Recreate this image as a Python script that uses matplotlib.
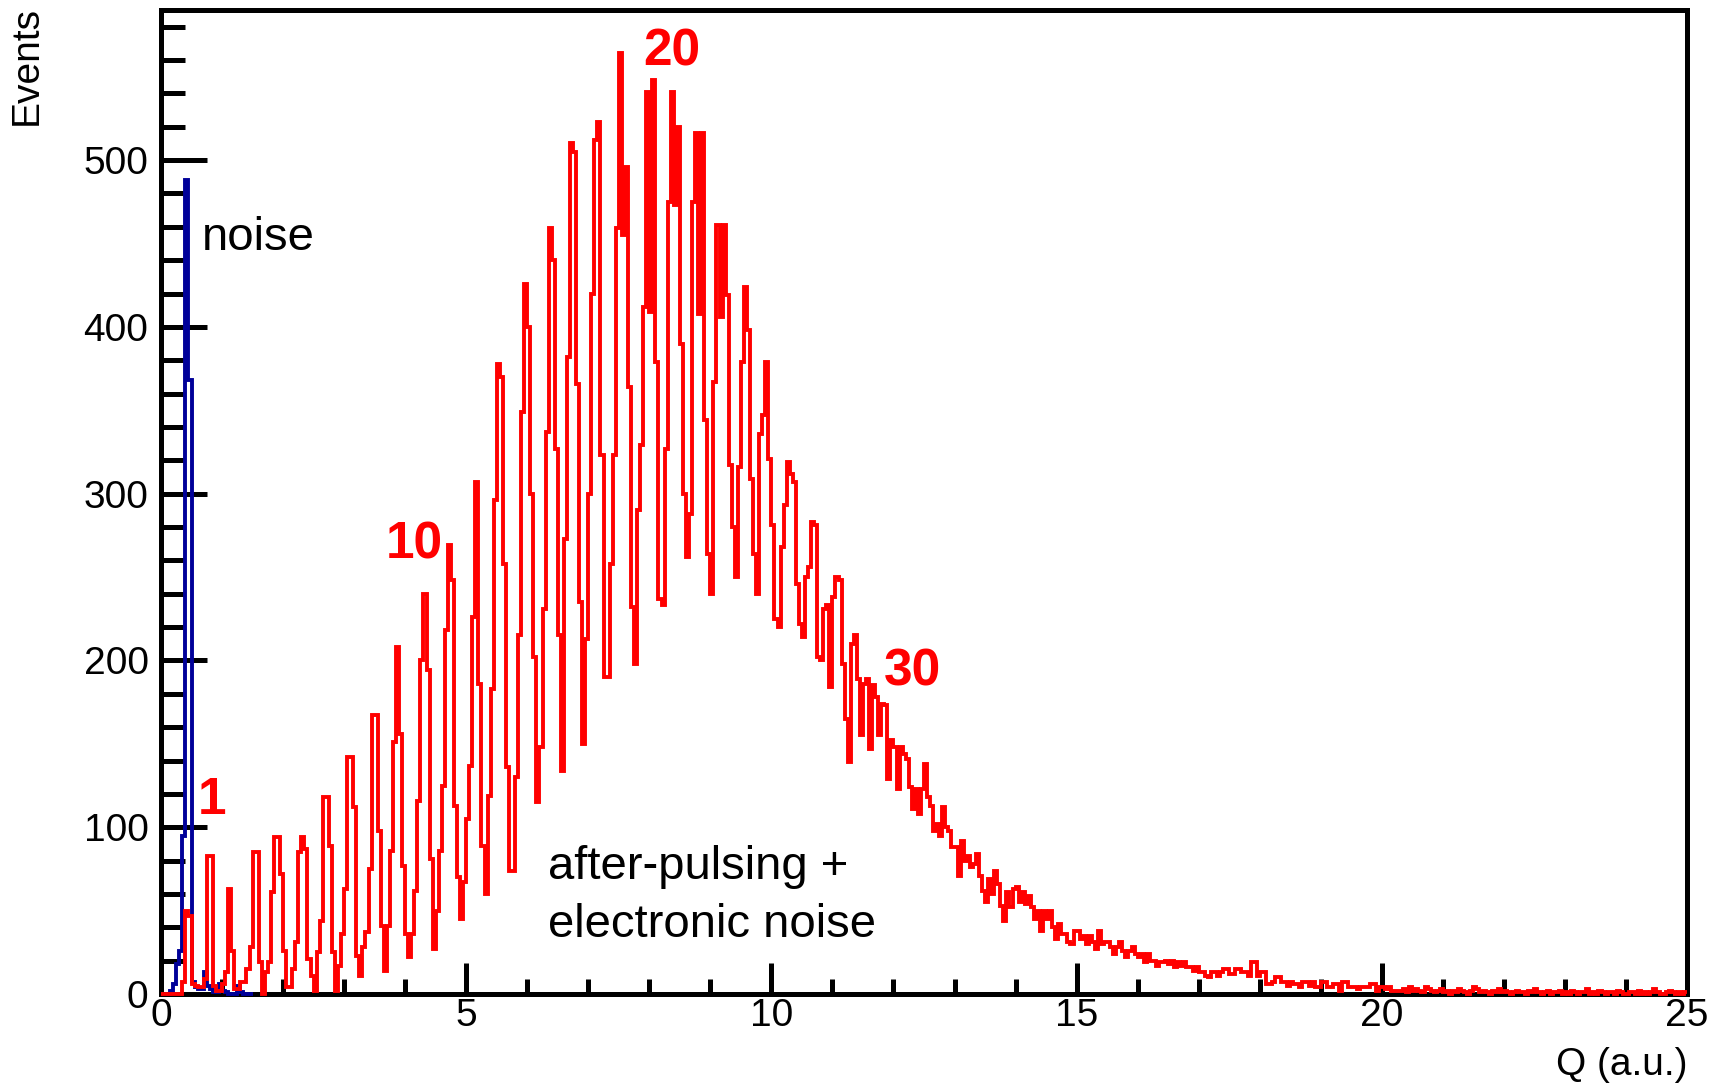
import numpy as np
import matplotlib
matplotlib.use("Agg")
import matplotlib.pyplot as plt
from matplotlib.ticker import MultipleLocator

plt.rcParams['font.family'] = ['Liberation Sans', 'DejaVu Sans']

# Histogram binning: 500 bins on 0..25
q_min, q_max, n_bins = 0.0, 25.0, 500

# Red histogram (signal spectrum), bin contents
red_counts = [
    0, 0, 0, 0, 0, 0, 0, 7, 50, 47,
    6, 5, 4, 4, 9, 83, 83, 5, 2, 2,
    6, 13, 63, 26, 3, 3, 7, 7, 15, 28,
    85, 85, 19, 0, 13, 19, 61, 94, 94, 72,
    26, 4, 4, 15, 31, 85, 94, 87, 21, 11,
    2, 25, 44, 118, 118, 89, 25, 2, 17, 36,
    63, 142, 142, 112, 23, 11, 28, 37, 75, 167,
    167, 98, 41, 14, 41, 86, 151, 208, 156, 77,
    36, 22, 36, 62, 116, 200, 240, 194, 81, 27,
    50, 86, 125, 218, 269, 248, 113, 70, 45, 67,
    105, 137, 226, 307, 186, 89, 60, 119, 183, 296,
    378, 370, 258, 136, 74, 74, 130, 215, 349, 426,
    400, 300, 202, 115, 148, 231, 337, 459, 440, 327,
    215, 134, 273, 382, 510, 505, 366, 235, 150, 213,
    300, 420, 512, 523, 323, 190, 190, 258, 323, 459,
    564, 455, 496, 364, 232, 198, 290, 329, 412, 541,
    409, 548, 379, 237, 233, 327, 475, 541, 473, 520,
    390, 300, 262, 288, 475, 516, 408, 516, 344, 264,
    240, 367, 461, 406, 461, 419, 317, 280, 250, 316,
    379, 424, 398, 309, 264, 240, 336, 347, 379, 321,
    281, 225, 220, 268, 293, 319, 312, 307, 246, 222,
    214, 250, 256, 283, 281, 202, 200, 231, 233, 184,
    238, 250, 248, 198, 165, 139, 210, 215, 189, 155,
    186, 189, 147, 185, 178, 155, 174, 173, 129, 152,
    148, 123, 148, 144, 141, 124, 111, 123, 108, 123,
    138, 118, 113, 98, 102, 95, 112, 100, 98, 88,
    88, 71, 92, 80, 83, 76, 78, 84, 71, 62,
    55, 69, 60, 74, 66, 53, 44, 61, 52, 63,
    64, 55, 61, 54, 59, 52, 45, 50, 38, 50,
    45, 50, 40, 33, 42, 36, 36, 31, 30, 38,
    38, 33, 35, 30, 35, 31, 27, 38, 30, 31,
    31, 28, 24, 28, 31, 26, 22, 26, 28, 24,
    22, 24, 19, 24, 20, 20, 17, 19, 19, 20,
    18, 20, 16, 19, 17, 19, 16, 16, 14, 16,
    13, 13, 11, 10, 13, 13, 11, 13, 15, 15,
    12, 12, 15, 15, 13, 13, 11, 19, 19, 11,
    13, 13, 6, 6, 7, 10, 10, 7, 7, 5,
    7, 6, 6, 4, 7, 7, 5, 7, 4, 4,
    7, 7, 4, 4, 6, 6, 2, 7, 7, 4,
    4, 4, 3, 4, 4, 4, 6, 6, 2, 4,
    4, 3, 4, 2, 2, 2, 2, 3, 1, 4,
    2, 3, 2, 1, 4, 3, 2, 1, 2, 3,
    1, 2, 0, 2, 1, 3, 2, 1, 0, 2,
    4, 3, 1, 2, 1, 0, 2, 1, 3, 1,
    2, 1, 0, 1, 2, 1, 1, 0, 2, 1,
    3, 1, 0, 1, 2, 0, 1, 1, 2, 0,
    1, 0, 2, 1, 0, 1, 1, 3, 0, 1,
    0, 2, 1, 0, 1, 1, 0, 2, 1, 0,
    0, 1, 1, 0, 2, 0, 1, 0, 1, 3,
    1, 0, 0, 1, 2, 1, 0, 1, 0, 1,
]

# Blue histogram (noise), first bins of the same binning
blue_counts = [0, 0, 0, 2, 6, 18, 26, 95, 488, 368,
               7, 4, 3, 3, 13, 5, 3, 1, 1, 6,
               2, 1, 0, 0, 0, 5, 1, 0, 0, 0]

y_ticks = [0, 100, 200, 300, 400, 500]
x_ticks = [0, 5, 10, 15, 20, 25]

W, H = 1723, 1084
fig = plt.figure(figsize=(W / 100, H / 100), dpi=100)
ax = fig.add_axes([161 / W, 1 - 994 / H, (1687 - 161) / W, (994 - 10) / H])

edges = np.linspace(q_min, q_max, n_bins + 1)
ax.stairs(blue_counts, edges[:len(blue_counts) + 1], color='#000099',
          linewidth=2.8, baseline=None, zorder=3, clip_on=False)
ax.stairs(red_counts, edges[:len(red_counts) + 1], color='#ff0000',
          linewidth=2.8, baseline=None, zorder=4, clip_on=False)

ax.set_xlim(0, 25)
ax.set_ylim(0, 590)

for s in ax.spines.values():
    s.set_linewidth(3.6)
    s.set_color('black')

ax.set_xticks(x_ticks)
ax.set_yticks(y_ticks)
ax.xaxis.set_minor_locator(MultipleLocator(1))
ax.yaxis.set_minor_locator(MultipleLocator(20))
ax.tick_params(axis='y', which='major', direction='in', length=33, width=3.6,
               labelsize=28, pad=9, right=False)
ax.tick_params(axis='y', which='minor', direction='in', length=17, width=3.6,
               right=False)
ax.tick_params(axis='x', which='major', direction='in', length=22, width=3.6,
               labelsize=28, pad=3, top=False)
ax.tick_params(axis='x', which='minor', direction='in', length=11, width=3.6,
               top=False)

fig.text(27 / W, 1 - 6 / H, 'Events', rotation=90, ha='center', va='top',
         fontsize=28)
fig.text(1688 / W, 1 - 1083 / H, 'Q (a.u.)', ha='right', va='bottom',
         fontsize=28)

ax.text(0.67, 446, 'noise', fontsize=34, color='black', va='baseline')
ax.text(6.34, 69, 'after-pulsing +', fontsize=34, color='black', va='baseline')
ax.text(6.34, 34, 'electronic noise', fontsize=34, color='black', va='baseline')

red_labels = [('1', 0.6, 108), ('10', 3.68, 261), ('20', 7.9, 557), ('30', 11.84, 185)]
for txt, qx, yv in red_labels:
    ax.text(qx, yv, txt, fontsize=37, fontweight='bold', color='#ff0000',
            va='baseline')

fig.savefig('out.png', dpi=100)
